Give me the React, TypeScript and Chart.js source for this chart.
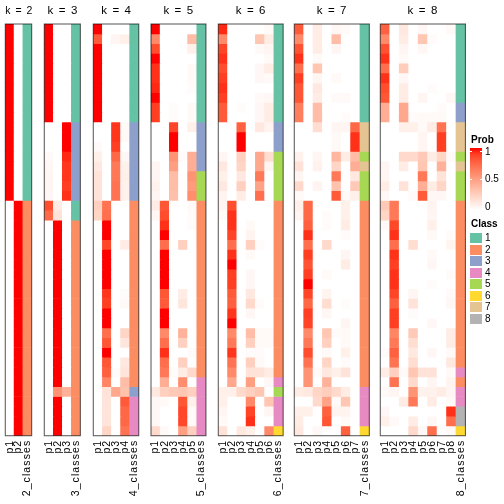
import React, { useEffect, useRef } from "react";
import { Chart, registerables } from "chart.js";

Chart.register(...registerables);

const FONT = "'Liberation Sans', Arial, Helvetica, sans-serif";
const W = 504;
const H = 504;
const PANEL_TOP = 24;
const PANEL_BOTTOM = 435.7;
const LEFTS = [5.3, 44.3, 93.3, 151, 218.3, 294.3, 380.3];
const RIGHTS = [33.3, 81.7, 140, 206.7, 284, 370, 465.7];

const K_VALUES = [2, 3, 4, 5, 6, 7, 8];
const CLASS_COLORS = ["#66C2A5", "#FC8D62", "#8DA0CB", "#E78AC3", "#A6D854", "#FFD92F", "#E5C494", "#B3B3B3"];
const CLASS_LABELS = ["1", "2", "3", "4", "5", "6", "7", "8"];
const PROB_TICKS = ["1", "0.5", "0"];

const P2 = [
  [1, 0], [1, 0], [1, 0], [1, 0], [1, 0], [1, 0], [1, 0], [1, 0], [1, 0], [1, 0],
  [1, 0], [1, 0], [1, 0], [1, 0], [1, 0], [1, 0], [1, 0], [1, 0],
  [0, 1], [0, 1], [0, 1], [0, 1], [0, 1], [0, 1], [0, 1], [0, 1], [0, 1], [0, 1],
  [0, 1], [0, 1], [0, 1], [0, 1], [0, 1], [0, 1], [0, 1], [0, 1], [0, 1], [0, 1],
  [0, 1], [0, 1], [0, 1], [0, 1],
];
const C2 = [1, 1, 1, 1, 1, 1, 1, 1, 1, 1, 1, 1, 1, 1, 1, 1, 1, 1, 2, 2, 2, 2, 2, 2, 2, 2, 2, 2, 2, 2, 2, 2, 2, 2, 2, 2, 2, 2, 2, 2, 2, 2];

const P3 = [
  [1, 0, 0], [1, 0, 0], [1, 0, 0], [1, 0, 0], [1, 0, 0], [1, 0, 0], [1, 0, 0], [1, 0, 0], [1, 0, 0], [1, 0, 0],
  [0, 0, 1], [0, 0, 1], [0, 0, 1], [0.03, 0, 0.95], [0.04, 0, 0.92], [0.05, 0, 0.92], [0.05, 0, 0.9], [0.04, 0, 0.93],
  [0.85, 0.1, 0], [0.75, 0.15, 0],
  [0, 1, 0], [0, 1, 0], [0, 1, 0], [0, 1, 0], [0, 1, 0], [0, 1, 0], [0, 1, 0], [0, 1, 0], [0, 1, 0], [0, 1, 0],
  [0, 1, 0], [0, 1, 0], [0, 1, 0], [0, 1, 0], [0, 1, 0], [0, 1, 0], [0, 1, 0],
  [0, 0.55, 0.4],
  [0, 1, 0], [0, 1, 0], [0, 1, 0], [0, 1, 0],
];
const C3 = [1, 1, 1, 1, 1, 1, 1, 1, 1, 1, 3, 3, 3, 3, 3, 3, 3, 3, 1, 1, 2, 2, 2, 2, 2, 2, 2, 2, 2, 2, 2, 2, 2, 2, 2, 2, 2, 2, 2, 2, 2, 2];

const P4 = [
  [1, 0, 0, 0], [0.8, 0, 0.05, 0.08], [1, 0, 0, 0], [1, 0, 0, 0], [1, 0, 0, 0], [1, 0, 0, 0], [1, 0, 0, 0], [1, 0, 0, 0], [1, 0, 0, 0], [1, 0, 0, 0],
  [0, 0, 0.92, 0.03], [0, 0, 0.92, 0.03], [0.03, 0, 0.9, 0], [0.08, 0, 0.75, 0.04], [0.12, 0, 0.68, 0.07], [0.15, 0, 0.68, 0.08], [0.15, 0, 0.7, 0.07], [0.15, 0, 0.7, 0.07],
  [0.25, 0.7, 0, 0], [0.22, 0.72, 0, 0],
  [0, 1, 0, 0], [0, 1, 0, 0], [0, 0.87, 0, 0.1], [0, 1, 0, 0], [0, 1, 0, 0], [0, 1, 0, 0], [0, 1, 0, 0],
  [0, 0.92, 0, 0.02], [0, 0.9, 0, 0.03], [0, 1, 0, 0], [0, 1, 0, 0], [0, 0.72, 0, 0.22], [0, 0.82, 0, 0.13], [0, 1, 0, 0],
  [0, 0.82, 0, 0.12], [0, 0.78, 0.02, 0.14], [0, 0.62, 0, 0.35], [0, 0.15, 0.45, 0.32],
  [0, 0.14, 0, 0.8], [0, 0.14, 0, 0.75], [0, 0.14, 0, 0.75], [0, 0.22, 0, 0.7],
];
const C4 = [1, 1, 1, 1, 1, 1, 1, 1, 1, 1, 3, 3, 3, 3, 3, 3, 3, 3, 2, 2, 2, 2, 2, 2, 2, 2, 2, 2, 2, 2, 2, 2, 2, 2, 2, 2, 2, 3, 4, 4, 4, 4];

const P5 = [
  [1, 0, 0, 0, 0], [0.6, 0, 0, 0, 0.35], [0.85, 0, 0, 0, 0.08], [1, 0, 0, 0, 0], [0.93, 0, 0, 0, 0.03],
  [0.93, 0, 0, 0, 0.03], [0.95, 0, 0, 0, 0.02], [1, 0, 0, 0, 0], [0.9, 0, 0.02, 0, 0.03], [0.9, 0, 0.02, 0, 0.03],
  [0, 0, 0.88, 0, 0.08], [0, 0, 1, 0, 0], [0, 0, 1, 0, 0], [0, 0, 0.55, 0.02, 0.42], [0.05, 0, 0.5, 0, 0.42],
  [0.05, 0, 0.35, 0, 0.55], [0.07, 0, 0.35, 0, 0.52], [0.05, 0, 0.33, 0, 0.58],
  [0.1, 0.82, 0, 0, 0.03], [0.04, 0.85, 0, 0, 0.02], [0, 0.93, 0, 0, 0.02], [0, 1, 0, 0, 0], [0, 0.72, 0, 0.25, 0],
  [0, 1, 0, 0, 0], [0, 1, 0, 0, 0], [0, 1, 0, 0, 0], [0, 1, 0, 0, 0],
  [0, 0.82, 0, 0.1, 0], [0, 0.8, 0, 0.13, 0], [0, 1, 0, 0, 0], [0, 1, 0, 0, 0], [0, 0.6, 0, 0.4, 0],
  [0, 0.72, 0, 0.25, 0], [0, 0.93, 0, 0, 0.02], [0, 0.72, 0, 0.25, 0], [0, 0.68, 0.02, 0.1, 0.2],
  [0, 0.42, 0, 0.58, 0], [0.12, 0.25, 0.28, 0.3, 0.25], [0.04, 0.03, 0, 0.82, 0.08], [0.04, 0, 0, 0.87, 0.03],
  [0.04, 0, 0, 0.87, 0.03], [0.2, 0.03, 0, 0.5, 0.25],
];
const C5 = [1, 1, 1, 1, 1, 1, 1, 1, 1, 1, 3, 3, 3, 3, 3, 5, 5, 5, 2, 2, 2, 2, 2, 2, 2, 2, 2, 2, 2, 2, 2, 2, 2, 2, 2, 2, 4, 4, 4, 4, 4, 4];

const P6 = [
  [0.95, 0, 0, 0, 0, 0.03], [0.6, 0, 0, 0, 0.3, 0.1], [0.88, 0, 0, 0, 0.03, 0.05], [0.93, 0, 0, 0, 0, 0.03],
  [0.85, 0, 0, 0, 0.04, 0.1], [0.9, 0, 0, 0, 0.04, 0.03], [0.93, 0, 0, 0, 0, 0], [0.9, 0, 0, 0, 0.03, 0.04],
  [0.8, 0, 0.02, 0, 0.04, 0.1], [0.8, 0, 0, 0, 0.04, 0.1],
  [0, 0, 0.78, 0, 0.12, 0.06], [0, 0, 1, 0, 0, 0], [0, 0, 1, 0, 0, 0],
  [0.05, 0, 0.25, 0, 0.45, 0.18], [0.12, 0, 0.22, 0, 0.45, 0.05], [0.08, 0, 0.12, 0, 0.68, 0],
  [0.12, 0, 0.25, 0, 0.48, 0], [0.06, 0, 0.1, 0, 0.72, 0],
  [0.06, 0.85, 0, 0, 0, 0], [0.03, 0.93, 0, 0, 0, 0], [0, 0.93, 0, 0.03, 0, 0], [0, 0.88, 0, 0.06, 0, 0],
  [0, 0.72, 0, 0.25, 0.02, 0], [0, 0.93, 0, 0.03, 0, 0], [0, 1, 0, 0, 0, 0], [0, 0.9, 0, 0.04, 0, 0],
  [0, 0.9, 0, 0.04, 0, 0], [0, 0.8, 0, 0.12, 0, 0], [0, 0.78, 0, 0.2, 0.02, 0], [0, 0.92, 0, 0.04, 0, 0],
  [0, 1, 0, 0, 0, 0], [0, 0.6, 0, 0.35, 0.03, 0.03], [0, 0.68, 0, 0.25, 0.03, 0.03], [0, 0.92, 0, 0.02, 0.02, 0],
  [0, 0.7, 0, 0.25, 0.03, 0], [0, 0.6, 0, 0.15, 0.15, 0.1], [0, 0.45, 0, 0.5, 0, 0.04],
  [0.08, 0.08, 0.2, 0.25, 0.3, 0], [0.08, 0, 0, 0.6, 0, 0.3], [0.05, 0, 0, 0.88, 0, 0.05],
  [0.03, 0, 0, 0.93, 0, 0], [0.15, 0, 0.12, 0.08, 0, 0.6],
];
const C6 = [1, 1, 1, 1, 1, 1, 1, 1, 1, 1, 3, 3, 3, 5, 5, 5, 5, 5, 2, 2, 2, 2, 2, 2, 2, 2, 2, 2, 2, 2, 2, 2, 2, 2, 2, 2, 4, 5, 4, 4, 4, 6];

const P7 = [
  [0.8, 0, 0.1, 0, 0.04, 0.03, 0], [0.6, 0, 0.1, 0, 0.35, 0, 0], [0.83, 0, 0.1, 0, 0.05, 0, 0],
  [0.93, 0, 0.03, 0, 0, 0, 0], [0.72, 0, 0.3, 0, 0, 0, 0], [0.9, 0, 0.05, 0, 0.03, 0, 0],
  [0.82, 0, 0.12, 0, 0, 0, 0], [0.82, 0, 0.1, 0, 0.03, 0.03, 0], [0.65, 0, 0.35, 0, 0, 0, 0],
  [0.65, 0, 0.35, 0, 0, 0.02, 0],
  [0, 0, 0.18, 0, 0.05, 0.05, 0.75], [0, 0, 0, 0, 0.03, 0, 0.93], [0, 0, 0, 0, 0.03, 0, 0.93],
  [0.07, 0, 0.05, 0, 0.38, 0.1, 0.35], [0.15, 0, 0.07, 0, 0.22, 0, 0.42], [0.05, 0, 0, 0, 0.68, 0, 0.12],
  [0.2, 0, 0.06, 0, 0.32, 0, 0.28], [0.03, 0, 0, 0, 0.8, 0.03, 0.08],
  [0.08, 0.75, 0, 0, 0, 0.08, 0], [0.06, 0.75, 0, 0.02, 0, 0.08, 0], [0, 0.78, 0, 0.02, 0, 0.1, 0],
  [0, 0.93, 0, 0, 0, 0.02, 0], [0, 0.72, 0, 0.2, 0, 0, 0], [0, 0.9, 0, 0, 0, 0.05, 0],
  [0, 0.83, 0, 0, 0, 0.1, 0], [0, 0.9, 0, 0.03, 0, 0, 0], [0, 1, 0, 0, 0, 0, 0],
  [0, 0.88, 0, 0.06, 0, 0, 0], [0, 0.75, 0, 0.18, 0, 0.02, 0], [0, 0.9, 0, 0.04, 0, 0, 0],
  [0, 0.88, 0, 0, 0, 0.05, 0], [0, 0.6, 0, 0.3, 0.02, 0.03, 0], [0, 0.68, 0, 0.25, 0, 0.03, 0],
  [0, 0.85, 0, 0.03, 0, 0.08, 0], [0, 0.7, 0, 0.22, 0, 0.02, 0], [0, 0.55, 0.03, 0.12, 0.08, 0.15, 0],
  [0, 0.55, 0, 0.4, 0, 0, 0],
  [0.1, 0.12, 0.22, 0.26, 0.2, 0.1, 0], [0, 0, 0.2, 0.48, 0.03, 0.3, 0], [0.08, 0.08, 0, 0.78, 0.06, 0.06, 0],
  [0.1, 0, 0, 0.82, 0, 0.03, 0], [0.12, 0, 0.04, 0, 0, 0.78, 0],
];
const C7 = [1, 1, 1, 1, 1, 1, 1, 1, 1, 1, 7, 7, 7, 5, 7, 5, 5, 5, 2, 2, 2, 2, 2, 2, 2, 2, 2, 2, 2, 2, 2, 2, 2, 2, 2, 2, 2, 4, 4, 4, 4, 6];

const P8 = [
  [0.78, 0, 0.12, 0, 0.04, 0, 0, 0.03], [0.6, 0, 0.1, 0, 0.3, 0.02, 0, 0], [0.84, 0, 0.05, 0, 0.04, 0, 0, 0],
  [0.93, 0, 0.03, 0, 0, 0, 0, 0], [0.72, 0, 0.26, 0, 0, 0, 0, 0], [0.93, 0, 0.04, 0, 0, 0, 0, 0],
  [0.85, 0, 0.1, 0, 0, 0.02, 0, 0], [0.82, 0, 0.1, 0, 0.05, 0, 0, 0.04],
  [0.42, 0, 0.45, 0, 0, 0, 0.02, 0], [0.42, 0, 0.45, 0.02, 0.03, 0.03, 0.03, 0],
  [0, 0, 0.08, 0.08, 0.03, 0.1, 0.7, 0], [0, 0, 0, 0, 0.05, 0, 0.9, 0], [0, 0, 0, 0, 0.05, 0, 0.9, 0],
  [0, 0, 0.2, 0.2, 0.28, 0.1, 0.22, 0.03], [0.05, 0, 0.1, 0, 0.3, 0, 0.4, 0], [0.05, 0, 0, 0, 0.68, 0, 0.15, 0],
  [0.1, 0, 0.15, 0, 0.42, 0.1, 0.22, 0], [0.04, 0, 0, 0.03, 0.8, 0.04, 0.04, 0],
  [0.28, 0.68, 0, 0, 0, 0.06, 0, 0], [0.22, 0.68, 0, 0, 0, 0.05, 0, 0], [0.03, 0.87, 0, 0, 0, 0.08, 0, 0],
  [0, 0.93, 0, 0, 0, 0.03, 0, 0.02], [0, 0.72, 0, 0.18, 0, 0, 0, 0.06], [0, 0.93, 0, 0, 0, 0.03, 0, 0],
  [0, 0.9, 0, 0, 0, 0.04, 0, 0], [0, 0.93, 0, 0, 0, 0, 0, 0.02], [0, 0.93, 0, 0, 0, 0.02, 0, 0],
  [0, 0.88, 0, 0.05, 0, 0, 0, 0.03], [0, 0.78, 0, 0.15, 0, 0, 0, 0.04], [0, 0.9, 0, 0.02, 0, 0, 0, 0],
  [0, 0.9, 0, 0, 0, 0.04, 0, 0], [0, 0.62, 0, 0.28, 0, 0, 0, 0.1], [0, 0.68, 0, 0.18, 0, 0, 0, 0.1],
  [0.02, 0.78, 0, 0.12, 0, 0.04, 0, 0.03], [0, 0.7, 0, 0.18, 0, 0, 0, 0.12],
  [0.1, 0.25, 0.03, 0.3, 0.15, 0.15, 0, 0.03], [0, 0.7, 0, 0.2, 0, 0.05, 0, 0.06],
  [0.03, 0.05, 0, 0.55, 0.07, 0.07, 0.1, 0.05], [0, 0, 0.1, 0.68, 0, 0.1, 0, 0.03],
  [0.04, 0, 0, 0, 0, 0, 0, 0.93], [0.08, 0.03, 0, 0.1, 0, 0.04, 0, 0.72], [0, 0, 0, 0.2, 0.04, 0.72, 0, 0.03],
];
const C8 = [1, 1, 1, 1, 1, 1, 1, 1, 3, 3, 7, 7, 7, 5, 7, 5, 5, 5, 2, 2, 2, 2, 2, 2, 2, 2, 2, 2, 2, 2, 2, 2, 2, 2, 2, 4, 2, 4, 4, 8, 8, 6];

const PROBS = [P2, P3, P4, P5, P6, P7, P8];
const CLASSES = [C2, C3, C4, C5, C6, C7, C8];

// ---- colour ramp white -> red interpolated in CIE LAB ----
function toLin(c: number) {
  c /= 255;
  return c <= 0.04045 ? c / 12.92 : Math.pow((c + 0.055) / 1.055, 2.4);
}
function fromLin(c: number) {
  const v = c <= 0.0031308 ? 12.92 * c : 1.055 * Math.pow(c, 1 / 2.4) - 0.055;
  return Math.round(Math.max(0, Math.min(1, v)) * 255);
}
function rgbToLab(r: number, g: number, b: number) {
  const R = toLin(r), G = toLin(g), B = toLin(b);
  const X = (0.4124 * R + 0.3576 * G + 0.1805 * B) / 0.95047;
  const Y = 0.2126 * R + 0.7152 * G + 0.0722 * B;
  const Z = (0.0193 * R + 0.1192 * G + 0.9505 * B) / 1.08883;
  const f = (t: number) => (t > 0.008856 ? Math.cbrt(t) : 7.787 * t + 16 / 116);
  const fx = f(X), fy = f(Y), fz = f(Z);
  return [116 * fy - 16, 500 * (fx - fy), 200 * (fy - fz)];
}
function labToRgb(L: number, a: number, b: number) {
  const fy = (L + 16) / 116;
  const fx = fy + a / 500;
  const fz = fy - b / 200;
  const inv = (t: number) => (t ** 3 > 0.008856 ? t ** 3 : (t - 16 / 116) / 7.787);
  const X = inv(fx) * 0.95047, Y = inv(fy), Z = inv(fz) * 1.08883;
  const R = 3.2406 * X - 1.5372 * Y - 0.4986 * Z;
  const G = -0.9689 * X + 1.8758 * Y + 0.0415 * Z;
  const B = 0.0557 * X - 0.204 * Y + 1.057 * Z;
  return `rgb(${fromLin(R)},${fromLin(G)},${fromLin(B)})`;
}
const LAB_WHITE = rgbToLab(255, 255, 255);
const LAB_RED = rgbToLab(255, 0, 0);
function probColor(v: number) {
  if (v <= 0) return "#ffffff";
  const t = Math.min(1, v);
  return labToRgb(
    LAB_WHITE[0] + (LAB_RED[0] - LAB_WHITE[0]) * t,
    LAB_WHITE[1] + (LAB_RED[1] - LAB_WHITE[1]) * t,
    LAB_WHITE[2] + (LAB_RED[2] - LAB_WHITE[2]) * t
  );
}

const borderPlugin = {
  id: "panelBorder",
  beforeDraw(chart: any) {
    try {
      chart.ctx.letterSpacing = "1.1px";
    } catch (e) {}
  },
  afterDatasetsDraw(chart: any) {
    const { ctx, chartArea } = chart;
    ctx.save();
    ctx.strokeStyle = "rgba(0,0,0,0.62)";
    ctx.lineWidth = 1.1;
    ctx.strokeRect(chartArea.left, chartArea.top, chartArea.right - chartArea.left, chartArea.bottom - chartArea.top);
    ctx.restore();
  },
};

function Panel({ idx }: { idx: number }) {
  const ref = useRef<HTMLCanvasElement | null>(null);
  const k = K_VALUES[idx];
  const left = LEFTS[idx];
  const right = RIGHTS[idx];
  const cLeft = Math.floor(left) - 12;
  const cRight = Math.ceil(right) + 12;
  const cw = cRight - cLeft;

  useEffect(() => {
    if (!ref.current) return;
    const probs = PROBS[idx];
    const classes = CLASSES[idx];
    const labels: string[] = [];
    for (let i = 1; i <= k; i++) labels.push("p" + i);
    labels.push(k + "_classes");
    const datasets = probs.map((row, r) => ({
      data: labels.map(() => [r, r + 1]),
      backgroundColor: row.map(probColor).concat(CLASS_COLORS[classes[r] - 1]),
      grouped: false,
      barPercentage: 1,
      categoryPercentage: 1,
      borderWidth: 0,
    }));
    const chart = new Chart(ref.current, {
      type: "bar",
      data: { labels, datasets: datasets as any },
      options: {
        responsive: false,
        animation: false,
        devicePixelRatio: 1,
        events: [],
        layout: { padding: { left: left - cLeft, right: cRight - right, top: 0, bottom: 0 } },
        plugins: {
          legend: { display: false },
          tooltip: { enabled: false },
          title: {
            display: true,
            text: `k = ${k}`,
            color: "#000",
            font: { size: 11.5, family: FONT, weight: "normal", lineHeight: 1.2 },
            padding: { top: 4, bottom: 24 - 4 - 11.5 * 1.2 },
          },
        },
        scales: {
          x: {
            type: "category",
            offset: true,
            grid: { display: false, drawTicks: false },
            border: { display: false },
            ticks: {
              autoSkip: false,
              minRotation: 90,
              maxRotation: 90,
              padding: 4,
              color: "#000",
              font: { size: 10.5, family: FONT },
            },
            afterFit: (s: any) => {
              s.height = H - PANEL_BOTTOM;
            },
          },
          y: { type: "linear", display: false, min: 0, max: 42, reverse: true },
        },
      } as any,
      plugins: [borderPlugin],
    });
    return () => chart.destroy();
  }, [idx]);

  return (
    <canvas
      ref={ref}
      width={cw}
      height={H}
      style={{ position: "absolute", left: cLeft, top: 0, width: cw, height: H }}
    />
  );
}

function Legend() {
  const stops: string[] = [];
  for (let i = 0; i <= 10; i++) {
    const v = 1 - i / 10;
    stops.push(`${probColor(v)} ${i * 10}%`);
  }
  const textBase: React.CSSProperties = {
    position: "absolute",
    fontFamily: FONT,
    fontSize: 10,
    lineHeight: "10px",
    color: "#000",
    whiteSpace: "nowrap",
  };
  const probY = [151.7, 179, 206.7];
  const classY = [238, 249.5, 261, 272.5, 284, 295.5, 307, 318.5];
  return (
    <>
      <div style={{ ...textBase, left: 471, top: 134.8, fontWeight: "bold" }}>Prob</div>
      <div
        style={{
          position: "absolute",
          left: 470,
          top: 148,
          width: 11.5,
          height: 62,
          background: `linear-gradient(to bottom, ${stops.join(", ")})`,
        }}
      />
      {probY.slice(0, 2).map((y, i) => (
        <React.Fragment key={"t" + i}>
          <div style={{ position: "absolute", left: 470, top: y - 0.5, width: 2, height: 1, background: "#fff" }} />
          <div style={{ position: "absolute", left: 479.5, top: y - 0.5, width: 2, height: 1, background: "#fff" }} />
        </React.Fragment>
      ))}
      {PROB_TICKS.map((t, i) => (
        <div key={"p" + i} style={{ ...textBase, left: 485, top: probY[i] - 4.9 }}>
          {t}
        </div>
      ))}
      <div style={{ ...textBase, left: 471, top: 218.5, fontWeight: "bold" }}>Class</div>
      {CLASS_LABELS.map((c, i) => (
        <React.Fragment key={"c" + i}>
          <div
            style={{
              position: "absolute",
              left: 470,
              top: classY[i] - 5,
              width: 11.5,
              height: 10,
              background: CLASS_COLORS[i],
            }}
          />
          <div style={{ ...textBase, left: 485, top: classY[i] - 4.9 }}>{c}</div>
        </React.Fragment>
      ))}
    </>
  );
}

export default function App() {
  return (
    <div
      style={{
        position: "fixed",
        left: 0,
        top: 0,
        width: W,
        height: H,
        overflow: "hidden",
        background: "#fff",
      }}
    >
      {K_VALUES.map((k, i) => (
        <Panel key={k} idx={i} />
      ))}
      <Legend />
    </div>
  );
}
